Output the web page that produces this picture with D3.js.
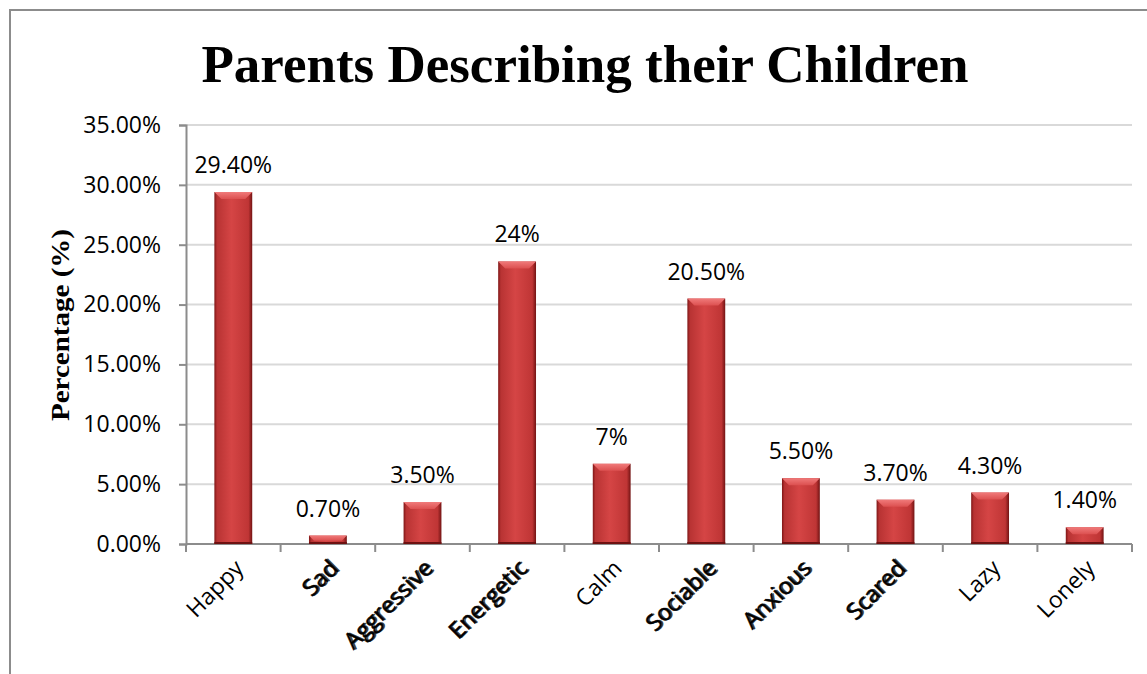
<!DOCTYPE html>
<html>
<head>
<meta charset="utf-8">
<script src="https://cdn.jsdelivr.net/npm/d3@7"></script>
<style>
  body { margin: 0; background: #fff; }
  svg { display: block; }
</style>
</head>
<body>
<div id="chart"></div>
<script>
// data
var categories = ["Happy", "Sad", "Aggressive", "Energetic", "Calm", "Sociable", "Anxious", "Scared", "Lazy", "Lonely"];
var values = [29.4, 0.7, 3.5, 23.6, 6.7, 20.5, 5.5, 3.7, 4.3, 1.4];
var valueLabels = ["29.40%", "0.70%", "3.50%", "24%", "7%", "20.50%", "5.50%", "3.70%", "4.30%", "1.40%"];
var yTicks = [0, 5, 10, 15, 20, 25, 30, 35];
// the labels that look smeared / doubled in the original
var smeared = ["Sad", "Aggressive", "Energetic", "Sociable", "Anxious", "Scared"];

var width = 1147,
    height = 674,
    margin = { top: 125, right: 15, bottom: 130, left: 186 };

var svg = d3.select('#chart').append('svg')
    .attr('width', width)
    .attr('height', height);

// gradients for the bevelled bars
var defs = svg.append('defs');
var grad = defs.append('linearGradient').attr('id', 'barGrad')
    .attr('x1', 0).attr('x2', 1).attr('y1', 0).attr('y2', 0);
[[0, '#7e1616'], [0.07, '#b83333'], [0.45, '#d54545'], [0.9, '#bf3535'], [1, '#721313']]
    .forEach(function(s) { grad.append('stop').attr('offset', s[0]).attr('stop-color', s[1]); });
var topGrad = defs.append('linearGradient').attr('id', 'topGrad')
    .attr('x1', 0).attr('x2', 0).attr('y1', 0).attr('y2', 1);
[[0, '#f07a7a'], [1, '#dc5050']]
    .forEach(function(s) { topGrad.append('stop').attr('offset', s[0]).attr('stop-color', s[1]); });

// outer chart border (runs off the right and bottom edge)
svg.append('rect')
    .attr('x', 10).attr('y', 10)
    .attr('width', 1160).attr('height', 700)
    .attr('fill', 'none')
    .attr('stroke', '#8c8c8c')
    .attr('stroke-width', 2);

var plotW = 1132 - margin.left,
    plotH = 544 - margin.top;

var x = d3.scaleBand()
    .domain(categories)
    .range([0, plotW])
    .paddingInner(0.6)
    .paddingOuter(0.3);

var xEdge = d3.scaleLinear().domain([0, categories.length]).range([0, plotW]);

var y = d3.scaleLinear()
    .domain([0, 35])
    .range([plotH, 0]);

var g = svg.append('g')
    .attr('transform', 'translate(' + margin.left + ',' + margin.top + ')');

// gridlines
g.append('g').attr('class', 'grid')
    .selectAll('line')
    .data(yTicks.filter(function(d) { return d > 0; }))
    .enter().append('line')
    .attr('x1', 0).attr('x2', plotW)
    .attr('y1', function(d) { return y(d); })
    .attr('y2', function(d) { return y(d); })
    .attr('stroke', '#d9d9d9')
    .attr('stroke-width', 2);

// y axis
var yAxis = d3.axisLeft(y)
    .tickValues(yTicks)
    .tickSize(7)
    .tickPadding(18)
    .tickFormat(function(d) { return d.toFixed(2) + '%'; });

var yg = g.append('g').call(yAxis);
yg.select('.domain').attr('stroke', '#8c8c8c').attr('stroke-width', 2);
yg.selectAll('.tick line').attr('stroke', '#8c8c8c').attr('stroke-width', 2);
yg.selectAll('.tick text')
    .attr('fill', '#000')
    .style('font-family', '"Open Sans", sans-serif')
    .style('font-size', '23px');

// x axis line and ticks at category boundaries
g.append('line')
    .attr('x1', 0).attr('x2', plotW)
    .attr('y1', plotH).attr('y2', plotH)
    .attr('stroke', '#8c8c8c').attr('stroke-width', 2);
g.append('g').selectAll('line')
    .data(d3.range(categories.length + 1))
    .enter().append('line')
    .attr('x1', function(i) { return xEdge(i); })
    .attr('x2', function(i) { return xEdge(i); })
    .attr('y1', plotH).attr('y2', plotH + 8)
    .attr('stroke', '#8c8c8c').attr('stroke-width', 2);

// bars
var bars = g.append('g').attr('class', 'bars')
    .selectAll('g')
    .data(categories)
    .enter().append('g');

bars.append('rect')
    .attr('x', function(d) { return x(d); })
    .attr('y', function(d, i) { return y(values[i]); })
    .attr('width', x.bandwidth())
    .attr('height', function(d, i) { return plotH - y(values[i]); })
    .attr('fill', 'url(#barGrad)');

// bevel on top of each bar
bars.append('polygon')
    .attr('points', function(d, i) {
        var x0 = x(d), x1 = x(d) + x.bandwidth(), t = y(values[i]);
        var h = plotH - t, b = Math.min(7, h * 0.6);
        return [[x0, t], [x1, t], [x1 - b, t + b], [x0 + b, t + b]].join(' ');
    })
    .attr('fill', 'url(#topGrad)');

// dark line at the bottom of each bar
bars.append('rect')
    .attr('x', function(d) { return x(d); })
    .attr('y', plotH - 2)
    .attr('width', x.bandwidth())
    .attr('height', 2)
    .attr('fill', '#6e1111');

// value labels
g.append('g').selectAll('text')
    .data(categories)
    .enter().append('text')
    .attr('x', function(d) { return x(d) + x.bandwidth() / 2; })
    .attr('y', function(d, i) { return y(values[i]) - 19; })
    .attr('text-anchor', 'middle')
    .style('font-family', '"Open Sans", sans-serif')
    .style('font-size', '23px')
    .attr('fill', '#000')
    .text(function(d, i) { return valueLabels[i]; });

// category labels, rotated
var xl = g.append('g').selectAll('g')
    .data(categories)
    .enter().append('g')
    .attr('transform', function(d) {
        return 'translate(' + (x(d) + x.bandwidth() / 2 + 6) + ',' + (plotH + 20) + ') rotate(-45)';
    });

xl.filter(function(d) { return smeared.indexOf(d) >= 0; })
    .append('text')
    .attr('text-anchor', 'end')
    .attr('dy', '0.35em')
    .attr('x', 1.5).attr('y', 1)
    .style('font-family', '"Open Sans", sans-serif')
    .style('font-size', '23px')
    .attr('fill', '#444')
    .text(function(d) { return d; });

xl.append('text')
    .attr('text-anchor', 'end')
    .attr('dy', '0.35em')
    .style('font-family', '"Open Sans", sans-serif')
    .style('font-size', '23px')
    .attr('fill', '#000')
    .attr('stroke', function(d) { return smeared.indexOf(d) >= 0 ? '#000' : 'none'; })
    .attr('stroke-width', 0.5)
    .text(function(d) { return d; });

// title
svg.append('text')
    .attr('x', 585)
    .attr('y', 82)
    .attr('text-anchor', 'middle')
    .style('font-family', '"Liberation Serif", "Times New Roman", serif')
    .style('font-weight', 'bold')
    .style('font-size', '53px')
    .text('Parents Describing their Children');

// y axis title
svg.append('text')
    .attr('transform', 'translate(69,' + (325) + ') rotate(-90)')
    .attr('text-anchor', 'middle')
    .style('font-family', '"Liberation Serif", "Times New Roman", serif')
    .style('font-weight', 'bold')
    .style('font-size', '25px')
    .attr('textLength', 192)
    .attr('lengthAdjust', 'spacingAndGlyphs')
    .text('Percentage (%)');
</script>
</body>
</html>
